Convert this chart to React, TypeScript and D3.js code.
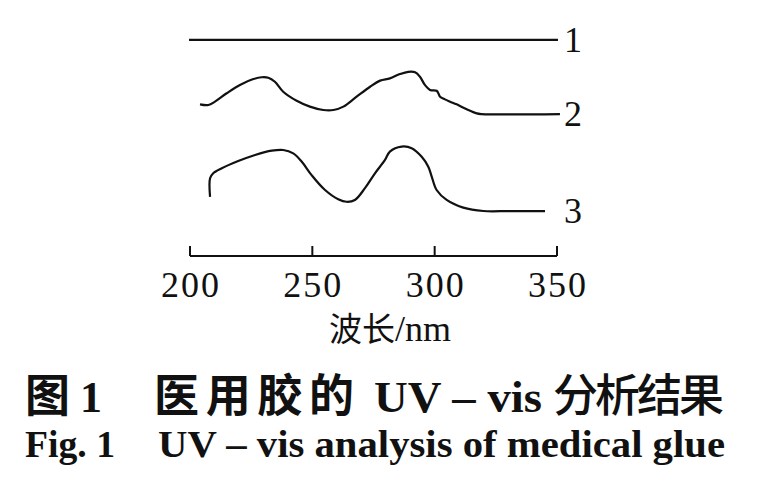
import React from "react";
import * as d3 from "d3";

// ---- data ----
const WAVELENGTH_TICKS = [200, 250, 300, 350];
const SERIES_LABELS = ["1", "2", "3"];

// Series 1: flat baseline
const S1_WL = [199.6, 350.4];
const S1_A = [0.956, 0.956];

// Series 2
const S2_WL = [204.1, 207.5, 210.2, 215.0, 220.4, 225.9, 229.3, 232.0, 234.7, 238.1, 243.6, 249.0, 254.5, 258.6, 262.7, 268.1, 273.6, 277.7, 281.7, 285.8, 289.2, 292.0, 294.0, 296.0, 298.1, 300.8, 301.5, 302.2, 304.2, 306.3, 309.0, 313.1, 317.2, 319.2, 351.2];
const S2_A = [0.671, 0.668, 0.683, 0.720, 0.757, 0.783, 0.791, 0.789, 0.771, 0.727, 0.687, 0.661, 0.646, 0.646, 0.661, 0.705, 0.749, 0.776, 0.786, 0.805, 0.815, 0.813, 0.793, 0.757, 0.735, 0.731, 0.720, 0.705, 0.693, 0.683, 0.671, 0.649, 0.631, 0.628, 0.628];

// Series 3
const S3_WL = [208.2, 208.2, 209.5, 213.0, 219.7, 226.6, 233.4, 238.1, 242.2, 245.7, 249.7, 255.2, 260.6, 264.0, 267.4, 271.5, 275.6, 279.7, 281.7, 286.5, 290.6, 294.7, 297.4, 298.8, 300.8, 304.9, 311.7, 319.9, 330.8, 345.1];
const S3_A = [0.262, 0.344, 0.366, 0.388, 0.420, 0.447, 0.466, 0.469, 0.454, 0.417, 0.358, 0.292, 0.251, 0.240, 0.248, 0.300, 0.366, 0.425, 0.462, 0.484, 0.477, 0.439, 0.395, 0.351, 0.292, 0.248, 0.214, 0.199, 0.199, 0.199];

const X_LABEL_CN = "波长";
const X_LABEL_UNIT = "/nm";
const CAPTION_CN_FIG = "图";
const CAPTION_CN_NUM = "1";
const CAPTION_CN_A = "医用胶的";
const CAPTION_CN_B = "UV – vis";
const CAPTION_CN_C = "分析结果";
const CAPTION_EN_FIG = "Fig. 1";
const CAPTION_EN_TEXT = "UV – vis analysis of medical glue";

const W = 759;
const H = 480;
const SERIF = "'Liberation Serif', 'DejaVu Serif', serif";
const CJK = "'Noto Sans CJK SC', 'Noto Sans', sans-serif";

export default function App() {
  const x = d3.scaleLinear().domain([200, 350]).range([190, 557]);
  const y = d3.scaleLinear().domain([0, 1]).range([256, 30]);

  const toPts = (xs: number[], ys: number[]) => xs.map((v, i) => [v, ys[i]] as [number, number]);
  const series = [toPts(S1_WL, S1_A), toPts(S2_WL, S2_A), toPts(S3_WL, S3_A)];

  const smooth = d3
    .line<[number, number]>()
    .x((d) => x(d[0]))
    .y((d) => y(d[1]))
    .curve(d3.curveCatmullRom.alpha(0.5));

  const axisY = y(0);
  const labelX = x(350) + 7;

  return (
    <svg
      width={W}
      height={H}
      viewBox={`0 0 ${W} ${H}`}
      style={{ position: "absolute", left: 0, top: 0, background: "#fff" }}
    >
      <rect x={0} y={0} width={W} height={H} fill="#fff" />
      {series.map((pts, i) => (
        <path key={i} d={smooth(pts) || ""} fill="none" stroke="#111" strokeWidth={2.2} strokeLinejoin="round" />
      ))}
      {series.map((pts, i) => {
        const last = pts[pts.length - 1];
        return (
          <text key={"l" + i} x={labelX} y={y(last[1]) + 12} fontFamily={SERIF} fontSize={36} fill="#111">
            {SERIES_LABELS[i]}
          </text>
        );
      })}

      {/* x axis */}
      <line x1={x(200)} x2={x(350)} y1={axisY} y2={axisY} stroke="#111" strokeWidth={2} />
      {WAVELENGTH_TICKS.map((t) => (
        <g key={t}>
          <line x1={x(t)} x2={x(t)} y1={axisY} y2={axisY - 10} stroke="#111" strokeWidth={2} />
          <text
            x={x(t)}
            y={297}
            textAnchor="middle"
            fontFamily={SERIF}
            fontSize={36}
            textLength={58}
            lengthAdjust="spacing"
            fill="#111"
          >
            {String(t)}
          </text>
        </g>
      ))}
      <text x={390} y={341} textAnchor="middle" fill="#111">
        <tspan fontFamily={CJK} fontSize={33}>{X_LABEL_CN}</tspan>
        <tspan fontFamily={SERIF} fontSize={36}>{X_LABEL_UNIT}</tspan>
      </text>

      {/* captions */}
      <g fill="#111">
        <text x={25} y={412} fontFamily={CJK} fontWeight={700} fontSize={45}>
          {CAPTION_CN_FIG}
        </text>
        <text x={80} y={412} fontFamily={SERIF} fontWeight={700} fontSize={44}>
          {CAPTION_CN_NUM}
        </text>
        <text x={154} y={412} fontFamily={CJK} fontWeight={700} fontSize={45} textLength={200} lengthAdjust="spacing">
          {CAPTION_CN_A}
        </text>
        <text x={374} y={412} fontFamily={SERIF} fontWeight={700} fontSize={44} textLength={168} lengthAdjust="spacingAndGlyphs">
          {CAPTION_CN_B}
        </text>
        <text x={553} y={412} fontFamily={CJK} fontWeight={500} fontSize={45} textLength={171} lengthAdjust="spacing">
          {CAPTION_CN_C}
        </text>
        <text x={25} y={457} fontFamily={SERIF} fontWeight={700} fontSize={38} textLength={90} lengthAdjust="spacingAndGlyphs">
          {CAPTION_EN_FIG}
        </text>
        <text x={158} y={457} fontFamily={SERIF} fontWeight={700} fontSize={38} textLength={567} lengthAdjust="spacingAndGlyphs">
          {CAPTION_EN_TEXT}
        </text>
      </g>
    </svg>
  );
}
